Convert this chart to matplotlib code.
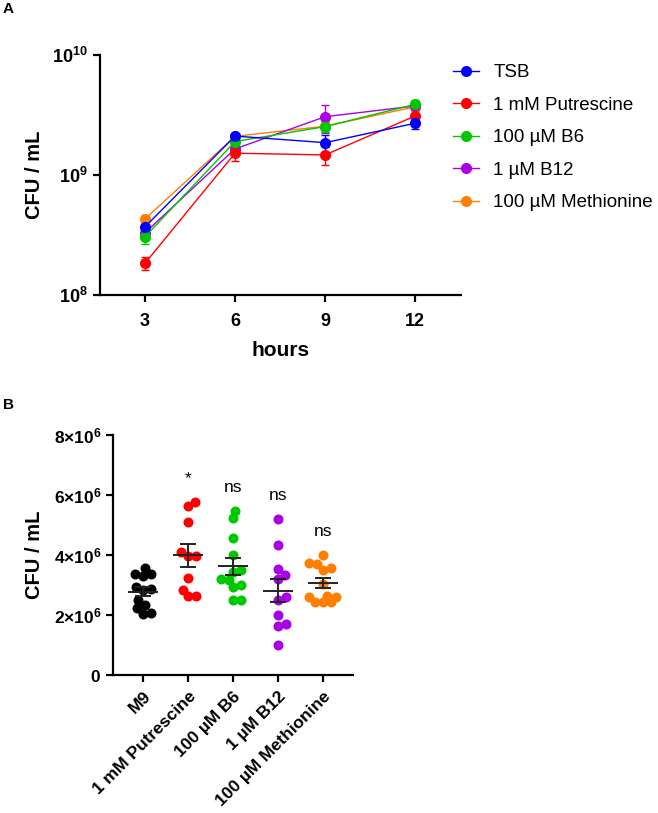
import numpy as np
import matplotlib
matplotlib.use('Agg')
import matplotlib.pyplot as plt
from matplotlib.lines import Line2D

plt.rcParams['font.family'] = ['Liberation Sans', 'DejaVu Sans']
plt.rcParams['mathtext.fontset'] = 'custom'
plt.rcParams['mathtext.rm'] = 'Liberation Sans'
plt.rcParams['mathtext.bf'] = 'Liberation Sans:bold'

# ---- panel A: growth curves (CFU/mL, mean +- sem) ----
hours = [3, 6, 9, 12]
conditions = ['TSB', '1 mM Putrescine', '100 µM B6', '1 µM B12', '100 µM Methionine']
colors = ['#0000ff', '#ff0000', '#00c800', '#aa00e6', '#ff8000']

tsb = [3.7e8, 2.11e9, 1.86e9, 2.70e9]
tsb_err = [0.4e8, 0.10e9, 0.30e9, 0.30e9]
putrescine = [1.84e8, 1.52e9, 1.47e9, 3.10e9]
putrescine_err = [0.23e8, 0.20e9, 0.25e9, 0.30e9]
b6 = [3.06e8, 1.90e9, 2.53e9, 3.88e9]
b6_err = [0.40e8, 0.15e9, 0.25e9, 0.30e9]
b12 = [3.3e8, 1.65e9, 3.06e9, 3.76e9]
b12_err = [0.30e8, 0.10e9, 0.80e9, 0.30e9]
methionine = [4.3e8, 2.10e9, 2.55e9, 3.70e9]
methionine_err = [0.30e8, 0.10e9, 0.25e9, 0.25e9]

# ---- panel B: CFU/mL per replicate (x1e6) ----
groups = ['M9', '1 mM Putrescine', '100 µM B6', '1 µM B12', '100 µM Methionine']
group_colors = ['#000000', '#ff0000', '#00c800', '#aa00e6', '#ff8000']
m9_pts = [3.56, 3.36, 3.30, 3.36, 2.83, 2.86, 2.94, 2.50, 2.33, 2.22, 2.03, 2.08]
put_pts = [5.63, 5.78, 5.11, 3.97, 4.11, 3.97, 3.22, 2.83, 2.63, 2.63]
b6_pts = [5.48, 5.22, 4.58, 4.00, 3.50, 3.44, 3.19, 3.17, 2.94, 3.00, 2.50, 2.50]
b12_pts = [5.19, 4.33, 3.53, 3.33, 3.19, 2.59, 2.50, 2.00, 1.69, 1.63, 1.00]
met_pts = [4.00, 3.75, 3.70, 3.58, 3.50, 3.05, 2.62, 2.60, 2.60, 2.45, 2.45, 2.45]
signif = ['', '*', 'ns', 'ns', 'ns']

W, H = 658, 813
fig = plt.figure(figsize=(W / 100, H / 100), dpi=100)


def px_axes(l, t, r, b):
    return fig.add_axes([l / W, 1 - b / H, (r - l) / W, (b - t) / H])


def style(ax):
    for s in ['top', 'right']:
        ax.spines[s].set_visible(False)
    for s in ['left', 'bottom']:
        ax.spines[s].set_linewidth(1.6)
    ax.tick_params(width=1.6, length=5)


# ================= A =================
axA = px_axes(100, 55, 461, 295)
style(axA)
series = [tsb, putrescine, b6, b12, methionine]
errs = [tsb_err, putrescine_err, b6_err, b12_err, methionine_err]
for k in [4, 3, 1, 2, 0]:
    axA.errorbar(hours, series[k], yerr=errs[k], color=colors[k], marker='o',
                 ms=7, lw=1, elinewidth=1, capsize=3, capthick=1)
axA.set_yscale('log')
axA.set_ylim(1e8, 1e10)
axA.set_xlim(1.5, 13.53)
axA.set_xticks(hours)
axA.set_xticklabels([str(h) for h in hours], fontsize=13, fontweight='bold')
axA.tick_params(axis='x', pad=8)
axA.set_yticks([1e8, 1e9, 1e10])
axA.set_yticklabels([r'$\mathbf{10^{8}}$', r'$\mathbf{10^{9}}$', r'$\mathbf{10^{10}}$'],
                    fontsize=13)
axA.minorticks_off()
axA.set_xlabel('hours', fontsize=15, fontweight='bold', labelpad=8)
axA.set_ylabel('CFU / mL', fontsize=14.5, fontweight='bold')
axA.yaxis.set_label_coords(-0.155, 0.5)

handles = [Line2D([], [], color=c, marker='o', ms=7, lw=1) for c in colors]
axA.legend(handles, conditions, loc='upper left', frameon=False, fontsize=13.5,
           bbox_to_anchor=(453 / W, 1 - 64 / H), bbox_transform=fig.transFigure,
           borderpad=0, handlelength=1.4, handletextpad=0.75, labelspacing=0.82,
           borderaxespad=0)

# ================= B =================
axB = px_axes(113, 435, 353, 675)
style(axB)
xlo, xhi = -0.667, 4.667
axB.set_xlim(xlo, xhi)
axB.set_ylim(0, 8)
dx = 240 / (xhi - xlo)   # px per x unit
dy = 240 / 8             # px per 1e6
diam = 8.0


def swarm(vals):
    vals = np.asarray(vals)
    placed = []
    offs = np.zeros(len(vals))
    cands = [0.0]
    for s in np.arange(0.5, 14, 0.5):
        cands += [s, -s]
    for i in np.argsort(vals):
        y = vals[i] * dy
        best, best_d = 0.0, -1
        for c in cands:
            d = min([np.hypot(c - px, y - py) for px, py in placed] + [99])
            if d >= diam:
                best = c
                break
            if d > best_d:
                best, best_d = c, d
        placed.append((best, y))
        offs[i] = best / dx
    return offs


all_pts = [m9_pts, put_pts, b6_pts, b12_pts, met_pts]
for i, pts in enumerate(all_pts):
    pts = np.asarray(pts)
    axB.scatter(i + swarm(pts), pts, s=52, color=group_colors[i], lw=0, zorder=2)
    m = pts.mean()
    sem = pts.std(ddof=1) / np.sqrt(len(pts))
    axB.hlines(m, i - 0.33, i + 0.33, color='#222222', lw=1.4, zorder=3)
    axB.vlines(i, m - sem, m + sem, color='#222222', lw=1.4, zorder=3)
    axB.hlines([m - sem, m + sem], i - 0.17, i + 0.17, color='#222222', lw=1.4, zorder=3)
    if signif[i]:
        axB.text(i, pts.max() + 0.78, signif[i], ha='center', va='center', fontsize=12.5)

axB.set_yticks([0, 2, 4, 6, 8])
axB.set_yticklabels([r'$\mathbf{0}$', r'$\mathbf{2{\times}10^{6}}$', r'$\mathbf{4{\times}10^{6}}$',
                     r'$\mathbf{6{\times}10^{6}}$', r'$\mathbf{8{\times}10^{6}}$'], fontsize=12.5)
axB.set_xticks(range(5))
axB.set_xticklabels(groups, rotation=45, ha='right', rotation_mode='anchor',
                    fontsize=12.5, fontweight='bold')
axB.tick_params(axis='x', pad=5)
axB.set_ylabel('CFU / mL', fontsize=14.5, fontweight='bold')
axB.yaxis.set_label_coords(-0.2875, 0.5)

fig.text(3 / W, 1 - 9 / H, 'A', fontsize=11, fontweight='bold', va='center')
fig.text(3 / W, 1 - 405 / H, 'B', fontsize=11, fontweight='bold', va='center')

fig.savefig('out.png', dpi=100)
